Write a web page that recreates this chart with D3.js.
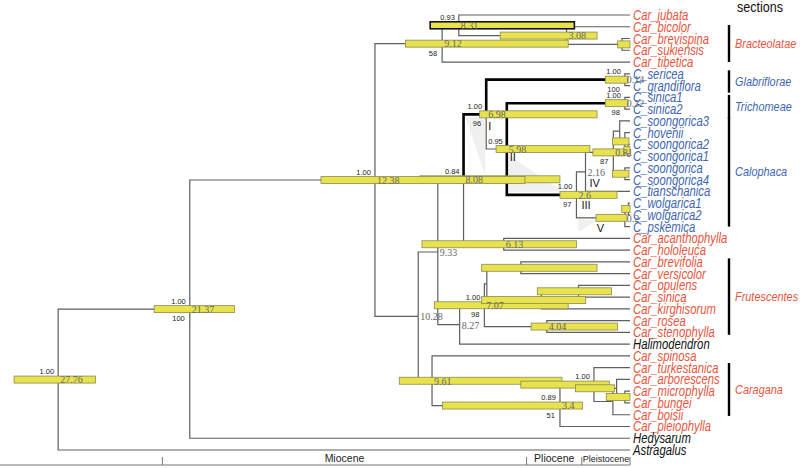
<!DOCTYPE html>
<html><head><meta charset="utf-8">
<script src="https://cdn.jsdelivr.net/npm/d3@7/dist/d3.min.js"></script>
<style>body{margin:0;background:#fff}</style>
</head><body>
<svg id="chart" width="800" height="468"></svg>
<script>
// ---------- DATA ----------
const taxa = ["Car_jubata","Car_bicolor","Car_brevispina","Car_sukiensis","Car_tibetica",
  "C_sericea","C_grandiflora","C_sinica1","C_sinica2","C_soongorica3","C_hovenii",
  "C_soongorica2","C_soongorica1","C_soongorica","C_soongorica4","C_tianschanica",
  "C_wolgarica1","C_wolgarica2","C_pskemica","Car_acanthophylla","Car_hololeuca",
  "Car_brevifolia","Car_versicolor","Car_opulens","Car_sinica","Car_kirghisorum",
  "Car_rosea","Car_stenophylla","Halimodendron","Car_spinosa","Car_turkestanica",
  "Car_arborescens","Car_microphylla","Car_bungei","Car_boisii","Car_pleiophylla",
  "Hedysarum","Astragalus"];
const taxonGroup = taxa.map(t => t.startsWith("Car_") ? "Car" : t.startsWith("C_") ? "C" : "out");

// internal nodes: children, age (Ma), 95% HPD [old, young], posterior, bootstrap, age label
const nodes = [
  {id:"root", kids:["n21","Astragalus"], age:27.76, hpd:[29.9,25.95], pp:"1.00", lab:"27.76"},
  {id:"n21", kids:["n12","Hedysarum"], age:21.37, hpd:[23.1,19.2], pp:"1.00", bs:"100", lab:"21.37"},
  {id:"n12", kids:["nBr","nU"], age:12.38, hpd:[15.0,5.1], pp:"1.00", lab:"12.38"},
  {id:"nBr", kids:["nA","Car_tibetica"], age:9.12, hpd:[10.9,3.0], bs:"58", lab:"9.12"},
  {id:"nA", kids:["Car_jubata","nB"], age:8.31, hpd:[9.7,2.7], pp:"0.93", lab:"8.31"},
  {id:"nB", kids:["Car_bicolor","nC"], age:3.08, hpd:[6.3,1.6], lab:"3.08"},
  {id:"nC", kids:["Car_brevispina","Car_sukiensis"], age:0.39, hpd:[0.6,0.0]},
  {id:"nU", kids:["nV","nW"], age:10.28, lab:"10.28"},
  {id:"nV", kids:["nE","nX"], age:9.33, lab:"9.33"},
  {id:"nE", kids:["nI","nAH"], age:8.08, hpd:[10.2,3.4], pp:"0.84", lab:"8.08"},
  {id:"nI", kids:["nGl","nII"], age:6.98, hpd:[7.3,1.6], pp:"1.00", bs:"96", lab:"6.98"},
  {id:"nGl", kids:["C_sericea","C_grandiflora"], age:0.25, hpd:[1.2,0.1], pp:"1.00", bs:"100", lab:"0.14"},
  {id:"nII", kids:["nSi","nIII"], age:5.98, hpd:[6.5,1.95], pp:"0.95", lab:"5.98"},
  {id:"nSi", kids:["C_sinica1","C_sinica2"], age:0.25, hpd:[1.2,0.1], pp:"1.00", bs:"98", lab:"0.32"},
  {id:"nIII", kids:["nIV","nVc"], age:2.6, hpd:[3.4,0.63], pp:"1.00", bs:"97", lab:"2.6"},
  {id:"nIV", kids:["nP","C_tianschanica"], age:2.16, lab:"2.16"},
  {id:"nP", kids:["nQ","nR2"], age:0.81, hpd:[1.8,0.24], bs:"87", lab:"0.81"},
  {id:"nQ", kids:["C_soongorica3","nQ2"], age:0.5},
  {id:"nQ2", kids:["C_hovenii","nQ3"], age:0.25, hpd:[0.85,0.05]},
  {id:"nQ3", kids:["C_soongorica2","C_soongorica1"], age:0.1, hpd:[0.3,0.0]},
  {id:"nR2", kids:["C_soongorica","C_soongorica4"], age:0.25, hpd:[0.85,0.05]},
  {id:"nVc", kids:["nW12","C_pskemica"], age:0.25, hpd:[1.65,0.15], lab:"0.2"},
  {id:"nW12", kids:["C_wolgarica1","C_wolgarica2"], age:0.08, hpd:[0.4,0.0]},
  {id:"nAH", kids:["Car_acanthophylla","Car_hololeuca"], age:6.13, hpd:[10.1,2.6], lab:"6.13"},
  {id:"nX", kids:["nF","Halimodendron"], age:8.27, lab:"8.27"},
  {id:"nF", kids:["nFak","nFr"], age:7.07, hpd:[9.5,3.0], pp:"1.00", bs:"98", lab:"7.07"},
  {id:"nFak", kids:["nFa","nFk"], age:6.95},
  {id:"nFa", kids:["Car_brevifolia","Car_versicolor"], age:5.3, hpd:[7.2,1.6]},
  {id:"nFk", kids:["nFos","Car_kirghisorum"], age:4.3, hpd:[7.2,2.15]},
  {id:"nFos", kids:["Car_opulens","Car_sinica"], age:2.5, hpd:[4.5,0.9]},
  {id:"nFr", kids:["Car_rosea","Car_stenophylla"], age:4.04, hpd:[4.8,0.6], lab:"4.04"},
  {id:"nW", kids:["Car_spinosa","nY"], age:9.61, hpd:[11.2,3.3], lab:"9.61"},
  {id:"nY", kids:["nZ","Car_pleiophylla"], age:3.4, hpd:[9.1,2.3], pp:"0.89", bs:"51", lab:"3.4"},
  {id:"nZ", kids:["Car_turkestanica","nZ2"], age:1.75, hpd:[5.3,1.0], pp:"1.00"},
  {id:"nZ2", kids:["nAMB","Car_boisii"], age:0.83},
  {id:"nAMB", kids:["Car_arborescens","nMB"], age:0.65, hpd:[2.65,0.75]},
  {id:"nMB", kids:["Car_microphylla","Car_bungei"], age:0.25, hpd:[1.15,0.0]}
];
const highlighted = ["nI","nGl","nSi","nIII"];       // emphasised lineage
const boldHpd = ["nA"];
const cladeMarks = [{node:"nI",text:"I"},{node:"nII",text:"II"},{node:"nIII",text:"III"},
                    {node:"nIV",text:"IV"},{node:"nVc",text:"V"}];
const sections = [
  {name:"Bracteolatae", from:0.85, to:4, group:"Car"},
  {name:"Glabriflorae", from:4.7, to:6.6, group:"C"},
  {name:"Trichomeae", from:6.8, to:8.8, group:"C"},
  {name:"Calophaca", from:8.7, to:18, group:"C"},
  {name:"Frutescentes", from:20.7, to:27.2, group:"Car"},
  {name:"Caragana", from:29.6, to:34.1, group:"Car"}
];
const epochs = ["Miocene","Pliocene","Pleistocene"];
const epochBounds = [22.7, 5.02, 2.34, 0];

// ---------- LAYOUT ----------
const svg = d3.select("#chart");
const x = d3.scaleLinear().domain([30, 0]).range([630 - 30*20.6, 630]);
const y = d3.scaleLinear().domain([0, taxa.length - 1]).range([15, 450]);
const colors = {Car:"#e8553d", C:"#4166b2", out:"#111"};

const byId = new Map(nodes.map(n => [n.id, n]));
function build(id) {
  const n = byId.get(id);
  if (!n) return {id, tip:true, age:0, idx:taxa.indexOf(id)};
  return Object.assign({}, n, {children:n.kids.map(build)});
}
const root = d3.hierarchy(build("root"));
root.eachAfter(d => {
  d.px = x(d.data.age);
  if (d.children) d.py = (d.children[0].py + d.children[d.children.length-1].py) / 2;
  else d.py = y(d.data.idx);
});
const all = root.descendants();
const find = id => all.find(d => d.data.id === id);

// faint shading wedges
const gW = svg.append("g").attr("fill","#ededed").attr("opacity",0.8);
(() => {
  const E = find("nE"), I = find("nI"), II = find("nII"), III = find("nIII"), V = find("nVc");
  gW.append("path").attr("d", `M${E.px+2},${I.py+3}L${I.px-1},${I.py+3}L${I.px-1},${E.py-4}Z`);
  gW.append("path").attr("d", `M${II.px+2},${II.py+6}L${II.px+2},${III.py-3}L${III.px-14},${III.py-3}Z`);
  gW.append("path").attr("d", `M${III.px+2},${V.py+2}L${III.px+22},${V.py+2}L${III.px+2},${V.py+14}Z`);
})();

// branches
const gL = svg.append("g").attr("fill","none");
root.links().forEach(l => {
  const hi = highlighted.includes(l.target.data.id);
  gL.append("path")
    .attr("d", `M${l.source.px},${l.source.py}V${l.target.py}H${l.target.px}`)
    .attr("stroke", hi ? "#000" : "#5e5e5e")
    .attr("stroke-width", hi ? 2.6 : 1.2);
});

// HPD bars (8.08 drawn below 12.38)
const barNodes = all.filter(d => d.data.hpd);
const under = ["nE"];
barNodes.sort((a,b) => (under.includes(b.data.id)?1:0) - (under.includes(a.data.id)?1:0));
const gB = svg.append("g");
barNodes.forEach(d => {
  const bold = boldHpd.includes(d.data.id);
  gB.append("rect")
    .attr("x", x(d.data.hpd[0])).attr("y", d.py - 3.5)
    .attr("width", x(d.data.hpd[1]) - x(d.data.hpd[0])).attr("height", 7)
    .attr("fill","#e8e34c")
    .attr("stroke", bold ? "#111" : "#8a8a55")
    .attr("stroke-width", bold ? 1.6 : 0.8);
});

// age labels
const gA = svg.append("g").attr("font-family","'Liberation Serif','DejaVu Serif',serif")
  .attr("font-size",10).attr("fill","#666");
all.filter(d => d.data.lab).forEach(d => {
  gA.append("text").attr("x", d.px + 2).attr("y", d.py + 3.8).text(d.data.lab);
});

// support labels
const gS = svg.append("g").attr("font-family","'Liberation Sans',Arial,sans-serif")
  .attr("font-size",7.5).attr("fill","#222").attr("text-anchor","end");
all.filter(d => d.data.pp).forEach(d => {
  gS.append("text").attr("x", d.px - 4).attr("y", d.py - 5.5).text(d.data.pp);
});
all.filter(d => d.data.bs).forEach(d => {
  gS.append("text").attr("x", d.px - 5).attr("y", d.py + 12).text(d.data.bs);
});

// clade numerals
const markOff = {I:[2,16], II:[3,12], III:[5,14], IV:[4,15], V:[-28,14]};
const gM = svg.append("g").attr("font-family","'Liberation Sans',Arial,sans-serif")
  .attr("font-size",11).attr("fill","#111");
cladeMarks.forEach(m => {
  const d = find(m.node), o = markOff[m.text];
  gM.append("text").attr("x", d.px + o[0]).attr("y", d.py + o[1]).text(m.text);
});

// tip labels
const gT = svg.append("g").attr("font-family","'Liberation Sans',Arial,sans-serif")
  .attr("font-size",14.5).attr("font-style","italic");
root.leaves().forEach(d => {
  gT.append("text")
    .attr("transform", `translate(633,${d.py + 5}) scale(0.78,1)`)
    .attr("fill", colors[taxonGroup[d.data.idx]])
    .text(d.data.id);
});

// sections
const gX = svg.append("g").attr("font-family","'Liberation Sans',Arial,sans-serif");
gX.append("text").attr("transform","translate(737,12) scale(0.9,1)")
  .attr("font-size",14).attr("fill","#111").text("sections");
sections.forEach(s => {
  const y0 = y(s.from), y1 = y(s.to);
  gX.append("line").attr("x1",729).attr("x2",729).attr("y1",y0).attr("y2",y1)
    .attr("stroke","#000").attr("stroke-width",2.4);
  gX.append("text").attr("transform", `translate(735,${(y0+y1)/2 + 4.5}) scale(0.84,1)`)
    .attr("font-size",13).attr("font-style","italic")
    .attr("fill", colors[s.group]).text(s.name);
});

// epoch axis
const gE = svg.append("g").attr("font-family","'Liberation Sans',Arial,sans-serif").attr("fill","#222");
gE.append("line").attr("x1",0).attr("x2",x(0)).attr("y1",465).attr("y2",465)
  .attr("stroke","#777").attr("stroke-width",1);
epochBounds.forEach(b => {
  gE.append("line").attr("x1",x(b)).attr("x2",x(b)).attr("y1",457).attr("y2",465)
    .attr("stroke","#777").attr("stroke-width",1);
});
epochs.forEach((e,i) => {
  const cx = (x(epochBounds[i]) + x(epochBounds[i+1])) / 2;
  gE.append("text").attr("x", cx).attr("y", 462).attr("text-anchor","middle")
    .attr("font-size", e === "Pleistocene" ? 9 : 10.5).text(e);
});
</script>
</body></html>
